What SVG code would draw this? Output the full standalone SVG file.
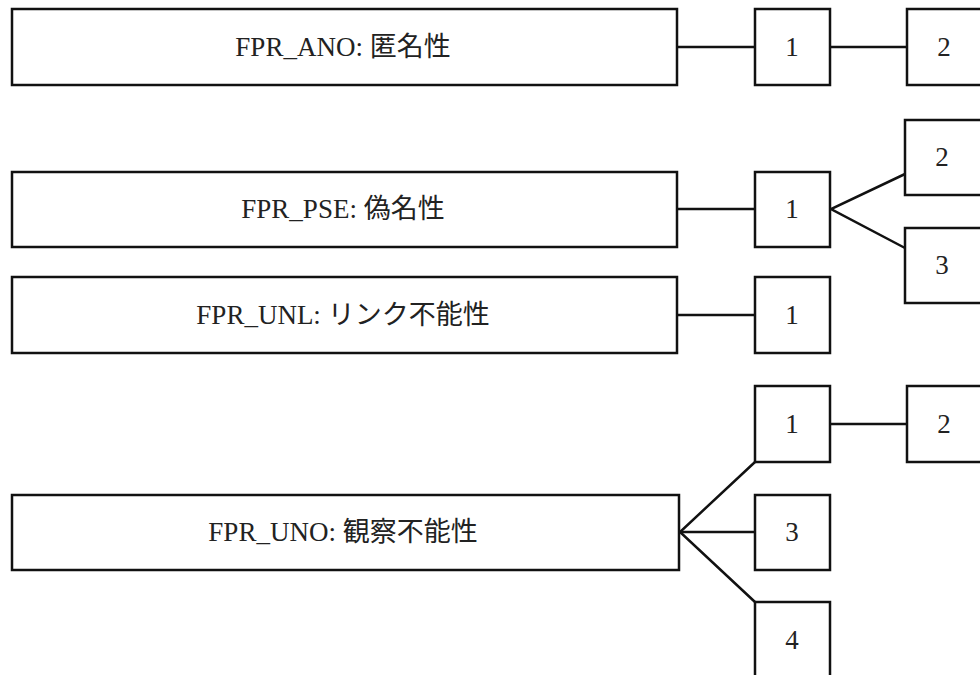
<svg xmlns="http://www.w3.org/2000/svg" width="980" height="675" viewBox="0 0 980 675">
<style>
.box{fill:#fff;stroke:#111;stroke-width:2.5}
.lbl{font-family:"Liberation Serif","Noto Sans CJK JP",serif;font-size:27px;fill:#222;text-anchor:middle;dominant-baseline:central}
.con{fill:none;stroke:#111;stroke-width:2.5}
</style>
<rect width="980" height="675" fill="#fff"/>
<g id="connectors">
<line class="con" x1="677" y1="47" x2="755" y2="47"/>
<line class="con" x1="830" y1="47" x2="907" y2="47"/>
<line class="con" x1="677" y1="209" x2="755" y2="209"/>
<polyline class="con" points="905,174 831,209 905,248"/>
<line class="con" x1="677" y1="315" x2="755" y2="315"/>
<line class="con" x1="830" y1="424" x2="907" y2="424"/>
<polyline class="con" points="755,462 680,532 755,602"/>
<line class="con" x1="680" y1="532" x2="755" y2="532"/>
</g>
<g id="fpr_ano"><rect class="box" x="12" y="9" width="665" height="76"/><text class="lbl" x="343" y="47">FPR_ANO: 匿名性</text></g>
<g id="ano_1"><rect class="box" x="755" y="9" width="75" height="76"/><text class="lbl" x="792" y="47">1</text></g>
<g id="ano_2"><rect class="box" x="907" y="9" width="76" height="76"/><text class="lbl" x="944" y="47">2</text></g>
<g id="fpr_pse"><rect class="box" x="12" y="172" width="665" height="75"/><text class="lbl" x="343" y="209">FPR_PSE: 偽名性</text></g>
<g id="pse_1"><rect class="box" x="755" y="172" width="75" height="75"/><text class="lbl" x="792" y="209">1</text></g>
<g id="pse_2"><rect class="box" x="905" y="120" width="78" height="75"/><text class="lbl" x="942" y="157">2</text></g>
<g id="pse_3"><rect class="box" x="905" y="228" width="78" height="75"/><text class="lbl" x="942" y="265">3</text></g>
<g id="fpr_unl"><rect class="box" x="12" y="277" width="665" height="76"/><text class="lbl" x="343" y="315">FPR_UNL: リンク不能性</text></g>
<g id="unl_1"><rect class="box" x="755" y="277" width="75" height="76"/><text class="lbl" x="792" y="315">1</text></g>
<g id="fpr_uno"><rect class="box" x="12" y="495" width="667" height="75"/><text class="lbl" x="343" y="532">FPR_UNO: 観察不能性</text></g>
<g id="uno_1"><rect class="box" x="755" y="386" width="75" height="76"/><text class="lbl" x="792" y="424">1</text></g>
<g id="uno_2"><rect class="box" x="907" y="386" width="76" height="76"/><text class="lbl" x="944" y="424">2</text></g>
<g id="uno_3"><rect class="box" x="755" y="495" width="75" height="75"/><text class="lbl" x="792" y="532">3</text></g>
<g id="uno_4"><rect class="box" x="755" y="602" width="75" height="76"/><text class="lbl" x="792" y="640">4</text></g>
</svg>
